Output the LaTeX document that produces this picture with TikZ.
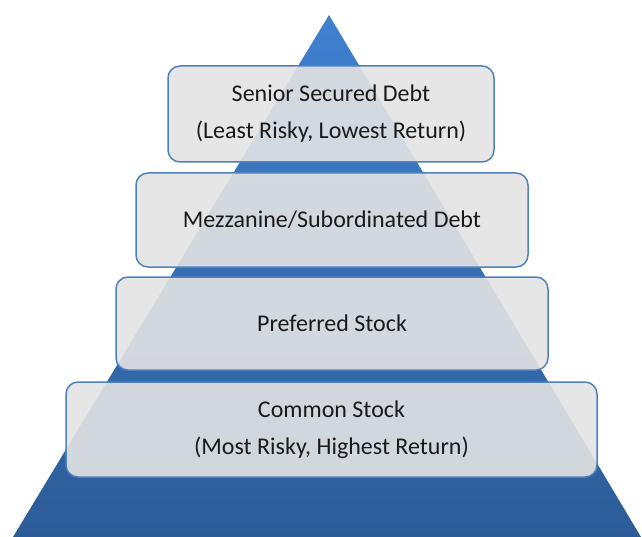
\documentclass[tikz,border=0pt]{standalone}
\usepackage{fontspec}
\setmainfont{Carlito}
\usetikzlibrary{positioning}

\definecolor{pyrtop}{HTML}{4080D0}
\definecolor{pyrbot}{HTML}{2C5C98}
\definecolor{tierline}{HTML}{4F81BD}
\definecolor{tierfill}{HTML}{E3E3E3}
\definecolor{tiertext}{HTML}{1A1A1A}

\begin{document}
\begin{tikzpicture}[x=1pt, y=1pt, tier/.style={draw=tierline, line width=1.5pt, fill=tierfill, fill opacity=0.91, text opacity=1, rounded corners=12pt, align=center, text=tiertext, font=\fontsize{24}{37}\selectfont, inner sep=0pt}]
  \useasboundingbox (0, 0) rectangle (642, -537);
  \coordinate (apex) at (329, -15);
  \coordinate (baseL) at (13, -537);
  \coordinate (baseR) at (641, -537);
  \shade[top color=pyrtop, bottom color=pyrbot] (apex) -- (baseR) -- (baseL) -- cycle;

  \draw (331.0pt, -114.0pt)node[tier, minimum width=326pt, minimum height=96pt](senior){Senior Secured Debt\\(Least Risky, Lowest Return)};
  \draw (332.0pt, -220.0pt)node[tier, minimum width=392pt, minimum height=94pt](mezz){Mezzanine/Subordinated Debt};
  \draw (332.0pt, -323.5pt)node[tier, minimum width=432pt, minimum height=93pt](pref){Preferred Stock};
  \draw (331.5pt, -429.5pt)node[tier, minimum width=531pt, minimum height=95pt](common){Common Stock\\(Most Risky, Highest Return)};
\end{tikzpicture}
\end{document}
